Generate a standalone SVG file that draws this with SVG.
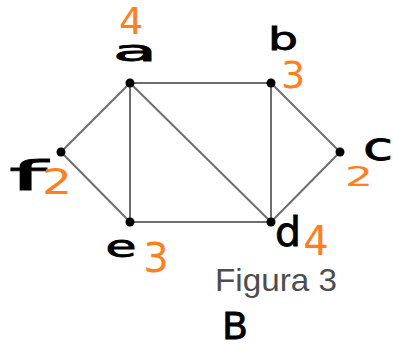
<svg xmlns="http://www.w3.org/2000/svg" width="393" height="349" viewBox="0 0 393 349">
<style>
.edge{stroke:#6e6e6e;stroke-width:2;fill:none}
.node{fill:#000}
.lbl{font-family:"DejaVu Sans","Liberation Sans",sans-serif;fill:#000;stroke:#000;stroke-width:0.8;text-anchor:middle}
.num{font-family:"DejaVu Sans","Liberation Sans",sans-serif;fill:#ff7f1e;text-anchor:middle}
.cap{font-family:"Liberation Sans",Arial,sans-serif;fill:#4d4d4d;font-size:32px}
</style>
<rect width="393" height="349" fill="#fff"/>
<g id="edges">
<line class="edge" x1="130" y1="83" x2="271" y2="83"/>
<line class="edge" x1="130" y1="83" x2="61" y2="152"/>
<line class="edge" x1="130" y1="83" x2="130" y2="222"/>
<line class="edge" x1="130" y1="83" x2="271" y2="222"/>
<line class="edge" x1="271" y1="83" x2="271" y2="222"/>
<line class="edge" x1="271" y1="83" x2="340" y2="152"/>
<line class="edge" x1="340" y1="152" x2="271" y2="222"/>
<line class="edge" x1="130" y1="222" x2="271" y2="222"/>
<line class="edge" x1="61" y1="152" x2="130" y2="222"/>
</g>
<g id="node-a">
<circle class="node" cx="130" cy="83" r="4.5"/>
<text class="lbl" x="135" y="61" font-size="28" textLength="44" lengthAdjust="spacingAndGlyphs">a</text>
<text class="num" x="131" y="34" font-size="38">4</text>
</g>
<g id="node-b">
<circle class="node" cx="271" cy="83" r="4.5"/>
<text class="lbl" x="283" y="50" font-size="32" textLength="30" lengthAdjust="spacingAndGlyphs">b</text>
<text class="num" x="293" y="88" font-size="38">3</text>
</g>
<g id="node-c">
<circle class="node" cx="340" cy="152" r="4.5"/>
<text class="lbl" x="378" y="160" font-size="38" textLength="30" lengthAdjust="spacingAndGlyphs">c</text>
<text class="num" x="359" y="186" font-size="26" textLength="28" lengthAdjust="spacingAndGlyphs">2</text>
</g>
<g id="node-d">
<circle class="node" cx="271" cy="222" r="4.5"/>
<text class="lbl" x="288" y="246" font-size="40" textLength="26" lengthAdjust="spacingAndGlyphs">d</text>
<text class="num" x="316" y="255" font-size="40">4</text>
</g>
<g id="node-e">
<circle class="node" cx="130" cy="222" r="4.5"/>
<text class="lbl" x="121" y="257" font-size="30" textLength="31" lengthAdjust="spacingAndGlyphs">e</text>
<text class="num" x="156" y="272" font-size="40">3</text>
</g>
<g id="node-f">
<circle class="node" cx="61" cy="152" r="4.5"/>
<text class="lbl" x="28" y="190" font-size="40" textLength="38" lengthAdjust="spacingAndGlyphs">f</text>
<text class="num" x="57" y="194" font-size="36" textLength="30" lengthAdjust="spacingAndGlyphs">2</text>
</g>
<g id="caption">
<text class="cap" x="215" y="291" textLength="122" lengthAdjust="spacingAndGlyphs">Figura 3</text>
<text class="lbl" x="235" y="339" font-size="37" textLength="26" lengthAdjust="spacingAndGlyphs">B</text>
</g>
</svg>
